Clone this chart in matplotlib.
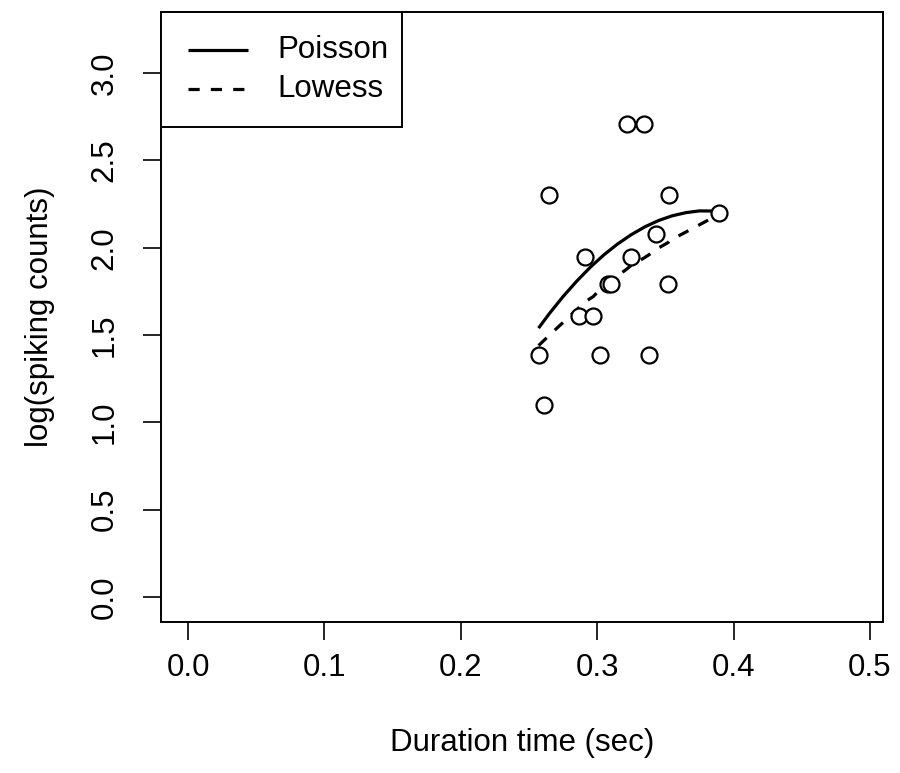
import numpy as np
import matplotlib
matplotlib.use("Agg")
import matplotlib.pyplot as plt
from matplotlib.lines import Line2D
from matplotlib.patches import Rectangle

plt.rcParams['font.family'] = ['Liberation Sans', 'DejaVu Sans']

# observed durations (sec) and log spike counts
duration = [0.257, 0.261, 0.265, 0.287, 0.291, 0.297, 0.302, 0.308, 0.310,
            0.322, 0.325, 0.334, 0.338, 0.343, 0.352, 0.353, 0.389]
log_counts = [1.386, 1.099, 2.303, 1.609, 1.946, 1.609, 1.386, 1.792, 1.792,
              2.708, 1.946, 2.708, 1.386, 2.079, 1.792, 2.303, 2.197]

# Poisson fit on a grid of durations
poisson_x = [0.257, 0.265, 0.275, 0.285, 0.295, 0.305, 0.315, 0.325,
             0.335, 0.345, 0.355, 0.365, 0.375, 0.389]
poisson_fit = [1.540, 1.624, 1.721, 1.809, 1.889, 1.960, 2.022, 2.075,
               2.120, 2.156, 2.183, 2.201, 2.211, 2.210]

# lowess fit at the sorted durations
lowess_fit = [1.44, 1.47, 1.50, 1.66, 1.69, 1.72, 1.76, 1.79, 1.81,
              1.88, 1.90, 1.94, 1.96, 1.99, 2.03, 2.04, 2.19]

xticks = [0.0, 0.1, 0.2, 0.3, 0.4, 0.5]
yticks = [0.0, 0.5, 1.0, 1.5, 2.0, 2.5, 3.0]
legend_labels = ['Poisson', 'Lowess']

fs = 22.5
W, H = 900, 773
dash = (0, (3.5, 3.5))

fig = plt.figure(figsize=(W / 100, H / 100), dpi=100)
ax = fig.add_axes([0.179, 0.1953, 0.802, 0.7892])

ax.plot(duration, log_counts, 'o', mfc='white', mec='black', mew=1.6,
        ms=11.5, linestyle='none', zorder=3)
ax.plot(poisson_x, poisson_fit, '-', color='black', lw=2.3,
        solid_capstyle='butt')
ax.plot(duration, lowess_fit, color='black', lw=2.3, linestyle=dash,
        dash_capstyle='butt')

ax.set_xlim(-0.0198, 0.5095)
ax.set_ylim(-0.143, 3.35)
ax.set_xticks(xticks)
ax.set_xticklabels([f"{t:.1f}" for t in xticks])
ax.set_yticks(yticks)
ax.set_yticklabels([f"{t:.1f}" for t in yticks], rotation=90, va='center')

for s in ax.spines.values():
    s.set_linewidth(1.4)

ax.tick_params(axis='both', direction='out', length=13, width=1.2,
               labelsize=fs, pad=9)
ax.tick_params(axis='y', pad=17)

ax.set_xlabel('Duration time (sec)', fontsize=fs, labelpad=33)
ax.set_ylabel('log(spiking counts)', fontsize=fs, labelpad=25)

# R-style legend box in the top-left corner (pixel layout -> figure fraction)
def fx(px):
    return px / W

def fy(py):
    return 1 - py / H

fig.add_artist(Rectangle((fx(161), fy(127)), fx(402) - fx(161), fy(12) - fy(127),
                         transform=fig.transFigure, fill=True, fc='white',
                         ec='black', lw=1.4, zorder=5))
styles = ['-', dash]
rows = [50, 89]
for lab, ls, ry in zip(legend_labels, styles, rows):
    fig.add_artist(Line2D([fx(188), fx(248)], [fy(ry), fy(ry)], color='black',
                          lw=2.3, linestyle=ls, transform=fig.transFigure,
                          solid_capstyle='butt', dash_capstyle='butt', zorder=6))
    fig.text(fx(277), fy(ry), lab, fontsize=fs, va='center', ha='left',
             zorder=6)

fig.savefig('out.png', dpi=100)
